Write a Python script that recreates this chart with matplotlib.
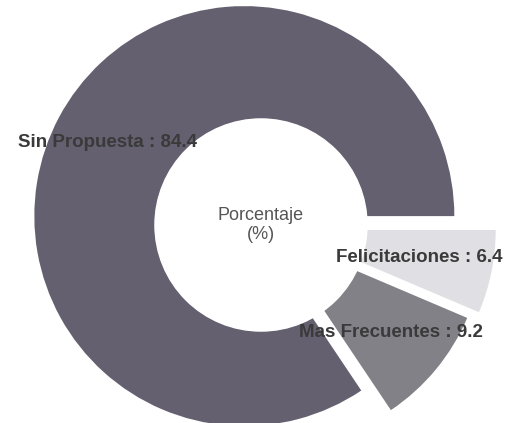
import numpy as np
import matplotlib
matplotlib.use("Agg")
import matplotlib.pyplot as plt

categorias = ["Sin Propuesta", "Mas Frecuentes", "Felicitaciones"]
valores = [84.4, 9.2, 6.4]
colores = ["#64606f", "#838188", "#e0e0e4"]
separacion = [0.09, 0.08, 0.12]
dist_etiqueta = [0.83, 0.80, 0.77]

plt.rcParams['font.family'] = ['Liberation Sans', 'DejaVu Sans']

fig = plt.figure(figsize=(5.17, 4.23), dpi=100)
ax = fig.add_axes([0, 0, 1, 1])

etiquetas = [f"{c} : {v}" for c, v in zip(categorias, valores)]
wedges, texts = ax.pie(valores, labels=etiquetas, colors=colores, explode=separacion,
                       startangle=0, counterclock=True, radius=1.0,
                       wedgeprops=dict(linewidth=0),
                       textprops=dict(fontsize=13.5, fontweight='bold', color='#3a3a3a'))
# reubicar etiquetas sobre el anillo, centradas
for w, t, d in zip(wedges, texts, dist_etiqueta):
    ang = np.radians((w.theta1 + w.theta2) / 2)
    t.set_position((d * np.cos(ang), d * np.sin(ang)))
    t.set_ha('center')
    t.set_va('center')
    t.set_zorder(5)

# agujero central
hueco = plt.Circle((0, 0), 0.505, color='white', zorder=3)
ax.add_artist(hueco)
ax.text(0, 0.0, "Porcentaje\n(%)", ha='center', va='center', fontsize=13,
        color='#555555', zorder=6, linespacing=1.15)

ax.set_xlim(-261 / 210, 256 / 210)
ax.set_ylim(-198 / 210, 225 / 210)
ax.set_aspect('auto')
ax.axis('off')

fig.savefig("out.png", dpi=100)
